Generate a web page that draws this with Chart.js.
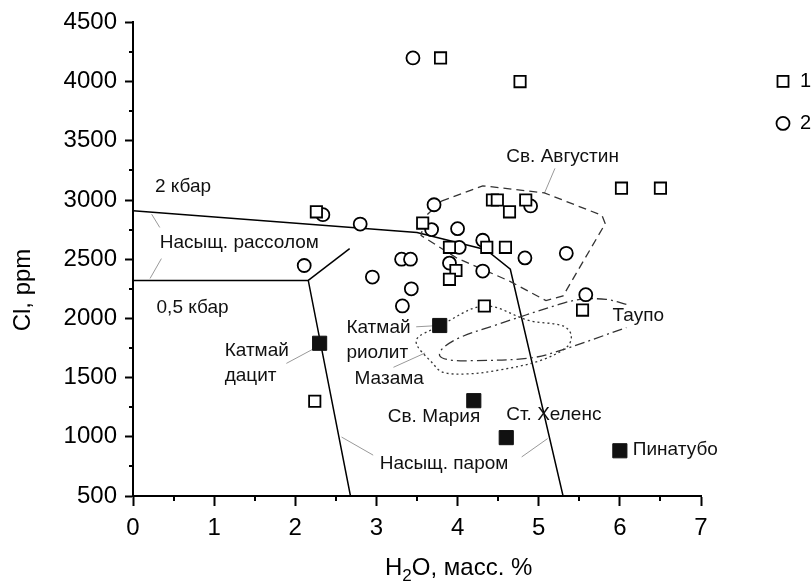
<!DOCTYPE html>
<html>
<head>
<meta charset="utf-8">
<script src="https://cdn.jsdelivr.net/npm/chart.js@4.4.0/dist/chart.umd.min.js"></script>
<style>
  html, body { margin: 0; padding: 0; background: #fff; }
  canvas { display: block; }
</style>
</head>
<body>
<canvas id="chart" width="811" height="586"></canvas>
<script>
const FONT = "'Liberation Sans', Arial, Helvetica, sans-serif";

// серия 1 - открытые квадраты
const sq1X = [3.79, 4.77, 6.02, 6.50, 4.43, 4.49, 4.84, 4.64, 2.26, 3.57, 3.90, 4.36, 4.59, 3.98, 3.90, 4.33, 5.54, 2.24];
const sq1Y = [4200, 4000, 3100, 3100, 3000, 3000, 3000, 2900, 2900, 2805, 2600, 2600, 2600, 2405, 2330, 2105, 2070, 1300];

// серия 2 - кружки
const ci2X = [3.45, 3.71, 4.90, 2.34, 2.80, 3.68, 4.00, 4.31, 4.02, 3.31, 3.42, 4.83, 5.34, 2.11, 3.90, 4.31, 2.95, 3.43, 3.32, 5.58];
const ci2Y = [4200, 2960, 2950, 2876, 2797, 2750, 2758, 2660, 2600, 2500, 2500, 2511, 2550, 2447, 2467, 2400, 2349, 2250, 2105, 2200];

// вулканы - залитые квадраты (Катмай дацит, Катмай риолит, Св. Мария, Ст. Хеленс, Пинатубо)
const volcX = [2.30, 3.78, 4.20, 4.60, 6.00];
const volcY = [1790, 1940, 1305, 993, 882];

// линии насыщения
const line2kbX = [0, 3.5, 4.35, 4.65, 5.3];
const line2kbY = [2910, 2725, 2580, 2415, 500];
const line05kbX = [0, 2.16, 2.68];
const line05kbY = [2321, 2321, 500];
const branchX = [2.16, 2.67];
const branchY = [2321, 2590];

// поля
const augX = [3.80, 4.31, 5.07, 5.78, 5.82, 5.30, 5.09, 4.64, 3.99, 3.55, 3.60, 3.80];
const augY = [2990, 3120, 3060, 2870, 2800, 2190, 2150, 2315, 2510, 2700, 2860, 2990];
const taupoX = [6.08, 5.83, 5.51, 5.26, 4.44, 4.03, 3.82, 3.78, 3.90, 4.19, 4.89, 5.26, 6.08];
const taupoY = [2119, 2161, 2160, 2120, 1937, 1839, 1750, 1685, 1650, 1643, 1665, 1727, 1923];
const mazX = [3.78, 4.33, 4.89, 5.30, 5.40, 5.35, 5.00, 4.48, 4.11, 3.82, 3.70, 3.49, 3.78];
const mazY = [1940, 2105, 1980, 1937, 1860, 1760, 1640, 1560, 1531, 1545, 1615, 1811, 1940];

// выноски
const leadX1 = [0.23, 0.35, 5.20, 2.22, 3.49, 3.21, 2.57, 4.79];
const leadY1 = [2880, 2505, 3267, 1741, 1929, 1587, 998, 830];
const leadX2 = [0.33, 0.21, 5.07, 1.89, 3.70, 3.60, 2.96, 5.11];
const leadY2 = [2768, 2337, 3057, 1620, 1937, 1708, 845, 985];

// подписи
const noteText = ['2 кбар', 'Насыщ. рассолом', '0,5 кбар', 'Катмай', 'дацит', 'Катмай', 'риолит', 'Мазама',
  'Св. Мария', 'Ст. Хеленс', 'Насыщ. паром', 'Пинатубо', 'Таупо', 'Св. Августин'];
const noteX = [0.27, 0.33, 0.29, 1.13, 1.13, 2.63, 2.63, 2.73, 3.14, 4.60, 3.04, 6.16, 5.91, 4.60];
const noteY = [3113, 2637, 2091, 1727, 1517, 1923, 1713, 1489, 1166, 1189, 769, 887, 2021, 3366];

// оси
const xMinorTicks = [0.5, 1.5, 2.5, 3.5, 4.5, 5.5, 6.5];
const yMinorTicks = [750, 1250, 1750, 2250, 2750, 3250, 3750, 4250];
const legendLabels = ['1', '2'];

const pts = (xs, ys) => xs.map((x, i) => ({ x: x, y: ys[i] }));

function lineSet(xs, ys, opts) {
  return Object.assign({
    data: pts(xs, ys),
    showLine: true,
    pointRadius: 0,
    borderColor: '#000',
    borderWidth: 1.5,
    fill: false,
    order: 5
  }, opts);
}

const datasets = [
  { label: '1', data: pts(sq1X, sq1Y), pointStyle: 'rect', pointRadius: 8, borderColor: '#000',
    backgroundColor: '#fff', borderWidth: 1.8, order: 1 },
  { label: '2', data: pts(ci2X, ci2Y), pointStyle: 'circle', pointRadius: 6.5, borderColor: '#000',
    backgroundColor: '#fff', borderWidth: 1.8, order: 2 },
  { label: 'volc', data: pts(volcX, volcY), pointStyle: 'rect', pointRadius: 10, borderColor: '#111',
    backgroundColor: '#111', borderWidth: 1, order: 0 },
  lineSet(line2kbX, line2kbY),
  lineSet(line05kbX, line05kbY),
  lineSet(branchX, branchY),
  lineSet(augX, augY, { borderColor: '#333', borderWidth: 1.3, borderDash: [8, 5], order: 4 }),
  lineSet(taupoX, taupoY, { borderColor: '#333', borderWidth: 1.3, borderDash: [10, 4, 2, 4], tension: 0.35, order: 4 }),
  lineSet(mazX, mazY, { borderColor: '#333', borderWidth: 1.3, borderDash: [2, 3], tension: 0.35, order: 4 })
];
leadX1.forEach((x, i) => {
  datasets.push(lineSet([x, leadX2[i]], [leadY1[i], leadY2[i]], { borderColor: '#999', borderWidth: 1, order: 6 }));
});

const extras = {
  id: 'extras',
  afterDraw(chart) {
    const ctx = chart.ctx;
    const xs = chart.scales.x, ys = chart.scales.y;
    const area = chart.chartArea;
    ctx.save();
    // малые деления
    ctx.strokeStyle = '#000';
    ctx.lineWidth = 2;
    ctx.beginPath();
    xMinorTicks.forEach(v => {
      const px = Math.round(xs.getPixelForValue(v));
      ctx.moveTo(px, area.bottom);
      ctx.lineTo(px, area.bottom + 5);
    });
    yMinorTicks.forEach(v => {
      const py = Math.round(ys.getPixelForValue(v));
      ctx.moveTo(area.left, py);
      ctx.lineTo(area.left - 4, py);
    });
    ctx.stroke();

    // подписи
    ctx.fillStyle = '#111';
    ctx.font = '19px ' + FONT;
    ctx.textAlign = 'left';
    ctx.textBaseline = 'middle';
    noteText.forEach((t, i) => {
      ctx.fillText(t, xs.getPixelForValue(noteX[i]), ys.getPixelForValue(noteY[i]));
    });

    // подписи осей
    ctx.fillStyle = '#000';
    ctx.font = '24px ' + FONT;
    ctx.textBaseline = 'alphabetic';
    let tx = area.left + 252, ty = 575;
    ctx.fillText('H', tx, ty);
    tx += ctx.measureText('H').width;
    ctx.font = '17px ' + FONT;
    ctx.fillText('2', tx, ty + 6);
    tx += ctx.measureText('2').width;
    ctx.font = '24px ' + FONT;
    ctx.fillText('O, масс. %', tx, ty);

    ctx.translate(23, 290);
    ctx.rotate(-Math.PI / 2);
    ctx.textAlign = 'center';
    ctx.textBaseline = 'middle';
    ctx.fillText('Cl, ppm', 0, 0);
    ctx.setTransform(1, 0, 0, 1, 0, 0);

    // легенда
    const lx = area.right + 82;
    ctx.lineWidth = 1.8;
    ctx.strokeStyle = '#000';
    ctx.strokeRect(lx - 5.5, area.top + 59 - 5.5, 11, 11);
    ctx.beginPath();
    ctx.arc(lx, area.top + 101, 6.5, 0, Math.PI * 2);
    ctx.stroke();
    ctx.font = '20px ' + FONT;
    ctx.textAlign = 'left';
    ctx.textBaseline = 'middle';
    ctx.fillText(legendLabels[0], lx + 17, area.top + 59);
    ctx.fillText(legendLabels[1], lx + 17, area.top + 101);
    ctx.restore();
  }
};

new Chart(document.getElementById('chart'), {
  type: 'scatter',
  data: { datasets: datasets },
  plugins: [extras],
  options: {
    responsive: false,
    animation: false,
    devicePixelRatio: 1,
    layout: { padding: { top: 20, right: 110, bottom: 0, left: 0 } },
    plugins: { legend: { display: false }, tooltip: { enabled: false } },
    scales: {
      x: {
        type: 'linear', min: 0, max: 7,
        ticks: { stepSize: 1, color: '#000', font: { family: FONT, size: 24 }, padding: 8, maxRotation: 0,
          callback: v => String(v) },
        grid: { drawOnChartArea: false, tickLength: 10, tickWidth: 2, tickColor: '#000' },
        border: { display: true, color: '#000', width: 2 },
        afterFit: s => { s.height = 90; }
      },
      y: {
        type: 'linear', min: 500, max: 4500,
        ticks: { stepSize: 500, color: '#000', font: { family: FONT, size: 24 }, padding: 8,
          callback: v => String(v) },
        grid: { drawOnChartArea: false, tickLength: 8, tickWidth: 2, tickColor: '#000' },
        border: { display: true, color: '#000', width: 2 },
        afterFit: s => { s.width = 133; }
      }
    }
  }
});
</script>
</body>
</html>
